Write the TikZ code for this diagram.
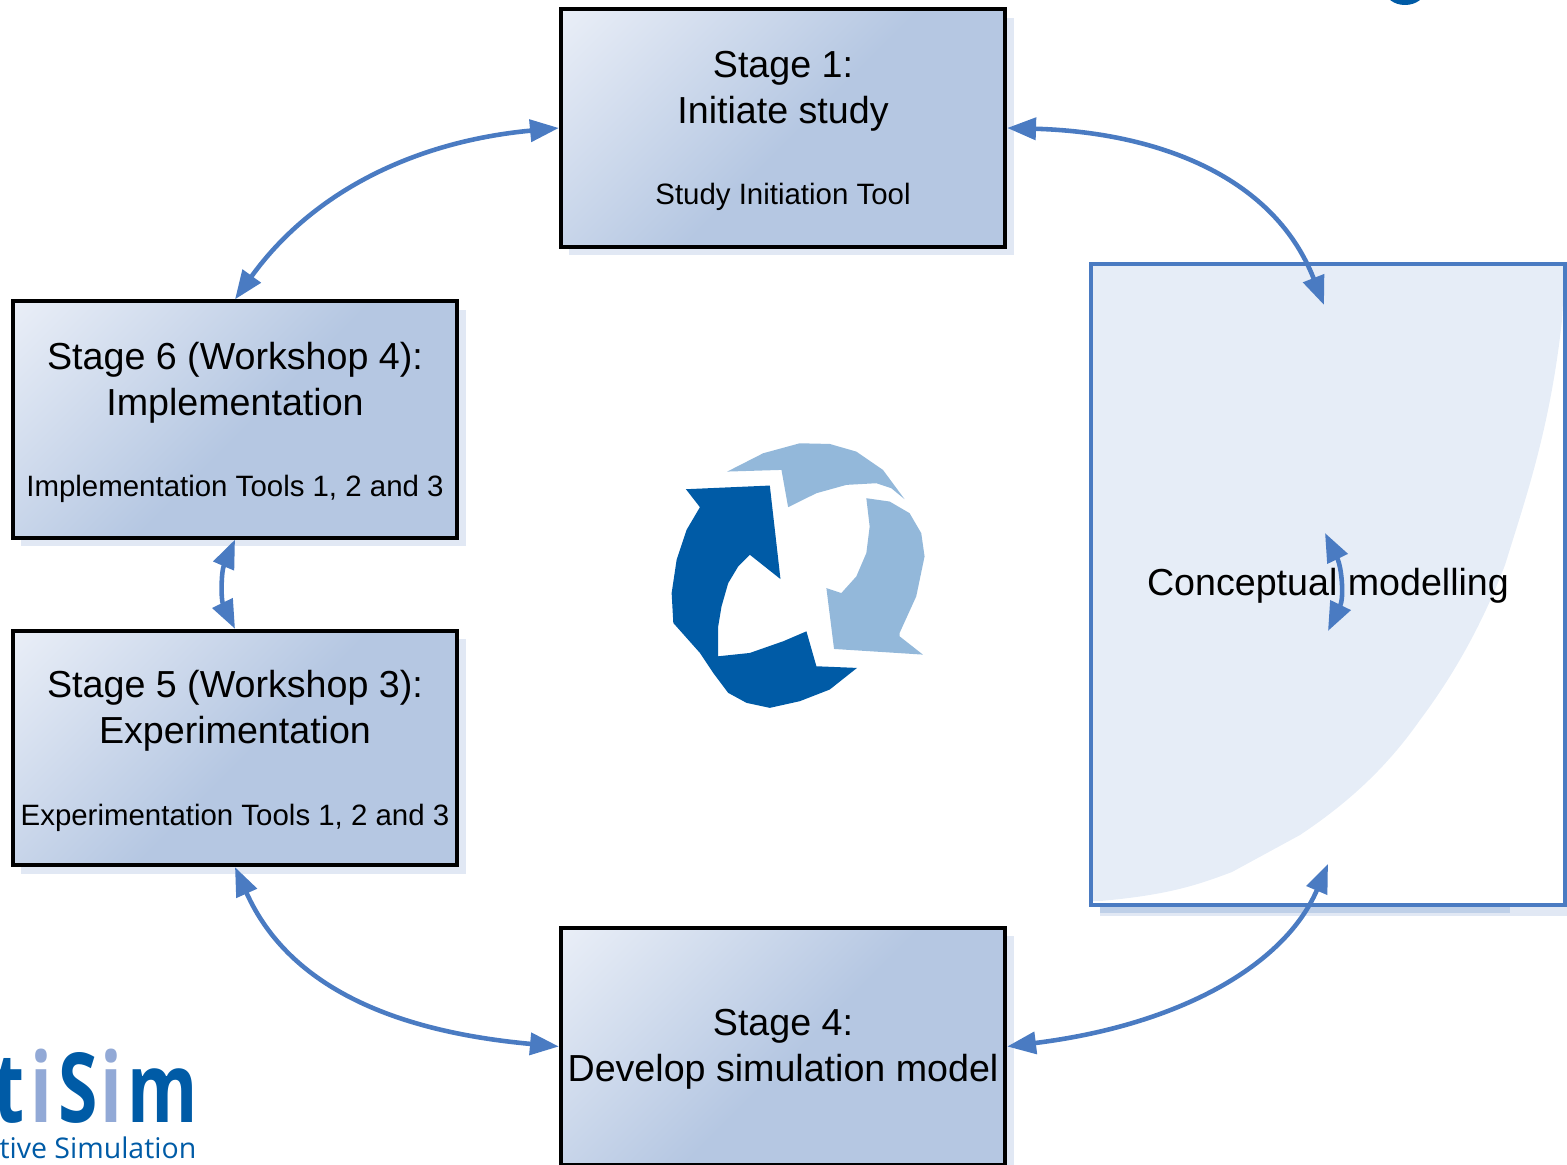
\documentclass[tikz,border=0pt]{standalone}
\usepackage{fontspec}
\setmainfont{Liberation Sans}
\newfontfamily\logofont[FakeStretch=0.74]{Open Sans}
\newfontfamily\tagfont{Open Sans}
\usetikzlibrary{arrows.meta, shadows}
\definecolor{boxlight}{HTML}{E9EEF7}
\definecolor{boxdark}{HTML}{B5C7E2}
\definecolor{shadowfill}{HTML}{E1E8F4}
\definecolor{shadowband}{HTML}{BFD0E8}
\definecolor{linkblue}{HTML}{4A7BC2}
\definecolor{wavefill}{HTML}{E6EDF7}
\definecolor{logodark}{HTML}{005BA6}
\definecolor{logolight}{HTML}{93B8DA}
\definecolor{logoletter}{HTML}{92A9D6}
\pgfdeclareverticalshading{stageshade}{100bp}{color(0bp)=(boxdark); color(48bp)=(boxdark); color(85bp)=(boxlight); color(100bp)=(boxlight)}
\newcommand{\toolfont}{\fontsize{8.37}{10}\selectfont}
\tikzset{
    bodytext/.style={font=\fontsize{10.7}{13.1}\selectfont, inner sep=0pt, align=center},
    stagebox/.style={draw=black, line width=1.15pt, minimum width=4.44cm, minimum height=2.37cm,
        shading=stageshade, shading angle=45,
        general shadow={fill=shadowfill, shadow xshift=2.4pt, shadow yshift=-2.4pt}},
    link/.style={draw=linkblue, line width=1.3pt, {Triangle[length=8.2pt, width=6.2pt]}-{Triangle[length=8.2pt, width=6.2pt]}}
}
\begin{document}
\begin{tikzpicture}[x=0.01cm, y=-0.01cm]
    \useasboundingbox (0, 0) rectangle (1567, 1165);
    % Conceptual modelling frame
    \fill [shadowfill] (1100, 905) rectangle (1567, 916);
    \fill [shadowband] (1100, 907) rectangle (1510, 913);
    \fill [wavefill] (1091, 264) -- (1565, 264) -- (1562, 320) .. controls (1550, 430) and (1525, 500) .. (1505, 565)
        .. controls (1480, 630) and (1450, 680) .. (1420, 720) .. controls (1385, 770) and (1345, 805) .. (1300, 835)
        -- (1232, 872) .. controls (1200, 884) and (1170, 895) .. (1100, 901) -- (1091, 901) -- cycle;
    \node (concept) [draw=linkblue, line width=1.15pt, minimum width=4.74cm, minimum height=6.41cm] at (1328, 584.5) {};
    \node (concepttext) [bodytext] at ([yshift=-0.3pt]concept.center) {Conceptual modelling};
    % Stages
    \node (stageone) [stagebox] at (783, 128) {};
    \node (stagesix) [stagebox, minimum height=2.36cm] at (235, 419.5) {};
    \node (stagefive) [stagebox, minimum height=2.34cm] at (235, 748) {};
    \node (stagefour) [stagebox] at (783, 1046.5) {};
    % Stage texts
    \node (stageonetext) [bodytext] at ([yshift=-0.8pt]stageone.center) {Stage 1:\\Initiate study\\[10.1pt]{\toolfont Study Initiation Tool}};
    \node (stagesixtext) [bodytext] at ([yshift=-0.8pt]stagesix.center) {Stage 6 (Workshop 4):\\Implementation\\[10.1pt]{\toolfont Implementation Tools 1, 2 and 3}};
    \node (stagefivetext) [bodytext] at ([yshift=-0.8pt]stagefive.center) {Stage 5 (Workshop 3):\\Experimentation\\[10.1pt]{\toolfont Experimentation Tools 1, 2 and 3}};
    \node (stagefourtext) [bodytext] at ([yshift=-0.9pt]stagefour.center) {Stage 4:\\Develop simulation model};
    % Free ends inside the frame
    \coordinate (concepttop) at (1324, 305);
    \coordinate (conceptbottom) at (1328, 864);
    \coordinate (loopup) at (1325, 533);
    \coordinate (loopdown) at (1328, 631);
    % Links
    \draw [link] (stageone.west) .. controls (410, 142) and (310, 195) .. (stagesix.north);
    \draw [link] (stageone.east) .. controls (1150, 132) and (1272, 172) .. (concepttop);
    \draw [link] (stagesix.south) .. controls (221, 572) and (221, 600) .. (stagefive.north);
    \draw [link] (stagefive.south) .. controls (290, 990) and (400, 1032) .. (stagefour.west);
    \draw [link] (stagefour.east) .. controls (1180, 1025) and (1285, 965) .. (conceptbottom);
    \draw [link] (loopup) .. controls (1342, 568) and (1344, 598) .. (loopdown);
    % Cycle icon
    \begin{scope}[shift={(650, 420)}, x=0.00333cm, y=-0.00333cm]
        \fill [logodark] (108, 208) -- (360, 197) -- (392, 478) -- (300, 405) -- (265, 440) -- (235, 490) -- (215, 560)
            -- (205, 620) -- (205, 710) -- (300, 700) -- (400, 665) -- (470, 635) -- (500, 740) -- (622, 745) -- (540, 810)
            -- (450, 845) -- (360, 865) -- (290, 850) -- (235, 820) -- (190, 760) -- (150, 700) -- (70, 610) -- (65, 520)
            -- (80, 420) -- (110, 330) -- (150, 262) -- cycle;
        \fill [logolight] (232, 155) -- (395, 150) -- (415, 262) -- (500, 220) -- (590, 195) -- (680, 190) -- (725, 205)
            -- (765, 238) -- (700, 150) -- (620, 95) -- (540, 72) -- (450, 70) -- (340, 100) -- cycle;
        \fill [logolight] (650, 235) -- (720, 245) -- (780, 280) -- (815, 340) -- (825, 410) -- (800, 530) -- (750, 640)
            -- (750, 650) -- (820, 705) -- (553, 688) -- (530, 505) -- (575, 520) -- (620, 470) -- (650, 400) -- (660, 320) -- cycle;
    \end{scope}
    % Corner mark at the top
    \fill [logodark] (1405, -10) ellipse (20 and 15);
    % Logo text
    \node (logoname) [anchor=base east, inner sep=0pt, text=logodark, font=\logofont\bfseries\fontsize{27.5}{30}\selectfont] at (198, 1122)
        {t\kern1.7pt\textcolor{logoletter}{i}\kern1.7ptS\kern0.6pt\textcolor{logoletter}{i}\kern1.4ptm};
    \node (logotag) [anchor=base east, inner sep=0pt, text=logodark, font=\tagfont\fontsize{8.1}{10}\selectfont] at (197, 1158) {tive Simulation};
\end{tikzpicture}
\end{document}
